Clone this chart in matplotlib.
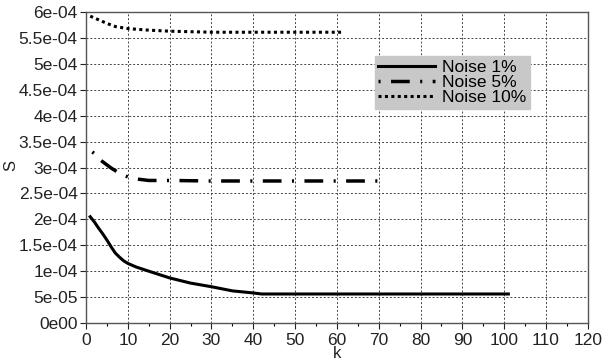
import matplotlib
matplotlib.use("Agg")
import matplotlib.pyplot as plt
from matplotlib.ticker import MultipleLocator, FixedLocator

plt.rcParams['font.family'] = ['Liberation Sans', 'DejaVu Sans']

k1 = [1, 2, 3, 4, 5, 6, 7, 8, 9, 10, 12, 15, 20, 25, 30, 35, 40, 42, 50, 60, 70, 80, 90, 101]
s1 = [2.05e-4, 1.95e-4, 1.83e-4, 1.72e-4, 1.60e-4, 1.47e-4, 1.35e-4, 1.27e-4, 1.20e-4, 1.15e-4,
      1.08e-4, 1.00e-4, 0.87e-4, 0.77e-4, 0.70e-4, 0.62e-4, 0.58e-4, 0.56e-4, 0.56e-4, 0.56e-4,
      0.56e-4, 0.56e-4, 0.56e-4, 0.56e-4]

k5 = [1.5, 2, 3, 4, 5, 6, 7, 8, 9, 10, 12, 15, 20, 30, 40, 50, 60, 71]
s5 = [3.30e-4, 3.27e-4, 3.17e-4, 3.11e-4, 3.05e-4, 2.99e-4, 2.94e-4, 2.89e-4, 2.85e-4, 2.82e-4,
      2.78e-4, 2.75e-4, 2.75e-4, 2.74e-4, 2.74e-4, 2.74e-4, 2.74e-4, 2.74e-4]

k10 = [1, 3, 5, 7, 10, 15, 20, 30, 40, 50, 61]
s10 = [5.92e-4, 5.85e-4, 5.78e-4, 5.72e-4, 5.68e-4, 5.65e-4, 5.63e-4, 5.61e-4, 5.61e-4, 5.61e-4, 5.61e-4]

labels = ['Noise 1%', 'Noise 5%', 'Noise 10%']
yticklabels = ['0e00', '5e-05', '1e-04', '1.5e-04', '2e-04', '2.5e-04', '3e-04',
               '3.5e-04', '4e-04', '4.5e-04', '5e-04', '5.5e-04', '6e-04']

fig = plt.figure(figsize=(6.11, 3.64), dpi=100)
ax = fig.add_axes([0.1408, 0.1126, 0.8212, 0.8544])

ax.plot(k1, s1, color='black', lw=2.2, ls='-', label=labels[0])
ax.plot(k5, s5, color='black', lw=2.5, dashes=(0.6, 3.0, 5.4, 3.0), label=labels[1])
ax.plot(k10, s10, color='black', lw=2.2, dashes=(1, 1.1), label=labels[2])

ax.set_xlim(0, 120)
ax.set_ylim(0, 6e-4)
ax.xaxis.set_major_locator(MultipleLocator(10))
ax.xaxis.set_minor_locator(MultipleLocator(5))
yt = [i * 5e-5 for i in range(13)]
ax.yaxis.set_major_locator(FixedLocator(yt))
ax.set_yticklabels(yticklabels)
ax.tick_params(axis='both', labelsize=12.5, colors='#222222', length=4, width=0.8, pad=2)
ax.tick_params(axis='x', which='both', pad=3)
ax.tick_params(axis='x', which='minor', length=2.5, width=0.8)
ax.grid(True, which='major', color='#444444', ls=(0, (2, 2)), lw=0.7)
for sp in ax.spines.values():
    sp.set_color('#555555')
    sp.set_linewidth(1.0)

fig.text(337 / 611, 1 - 354 / 364, 'k', fontsize=12, ha='center', va='center', color='#222222')
fig.text(11 / 611, 1 - 166 / 364, 'S', fontsize=12, rotation=90, ha='center', va='center',
         color='#222222')

leg = fig.legend(loc='upper left', bbox_to_anchor=(0.613, 0.845), frameon=True, fancybox=False,
                 fontsize=12.5, handlelength=3.3, borderpad=0.2, labelspacing=0.0,
                 handletextpad=0.4, borderaxespad=0)
leg.get_frame().set_facecolor('#c8c8c8')
leg.get_frame().set_edgecolor('#c8c8c8')
leg.get_frame().set_alpha(1)

fig.savefig('out.png', dpi=100)
